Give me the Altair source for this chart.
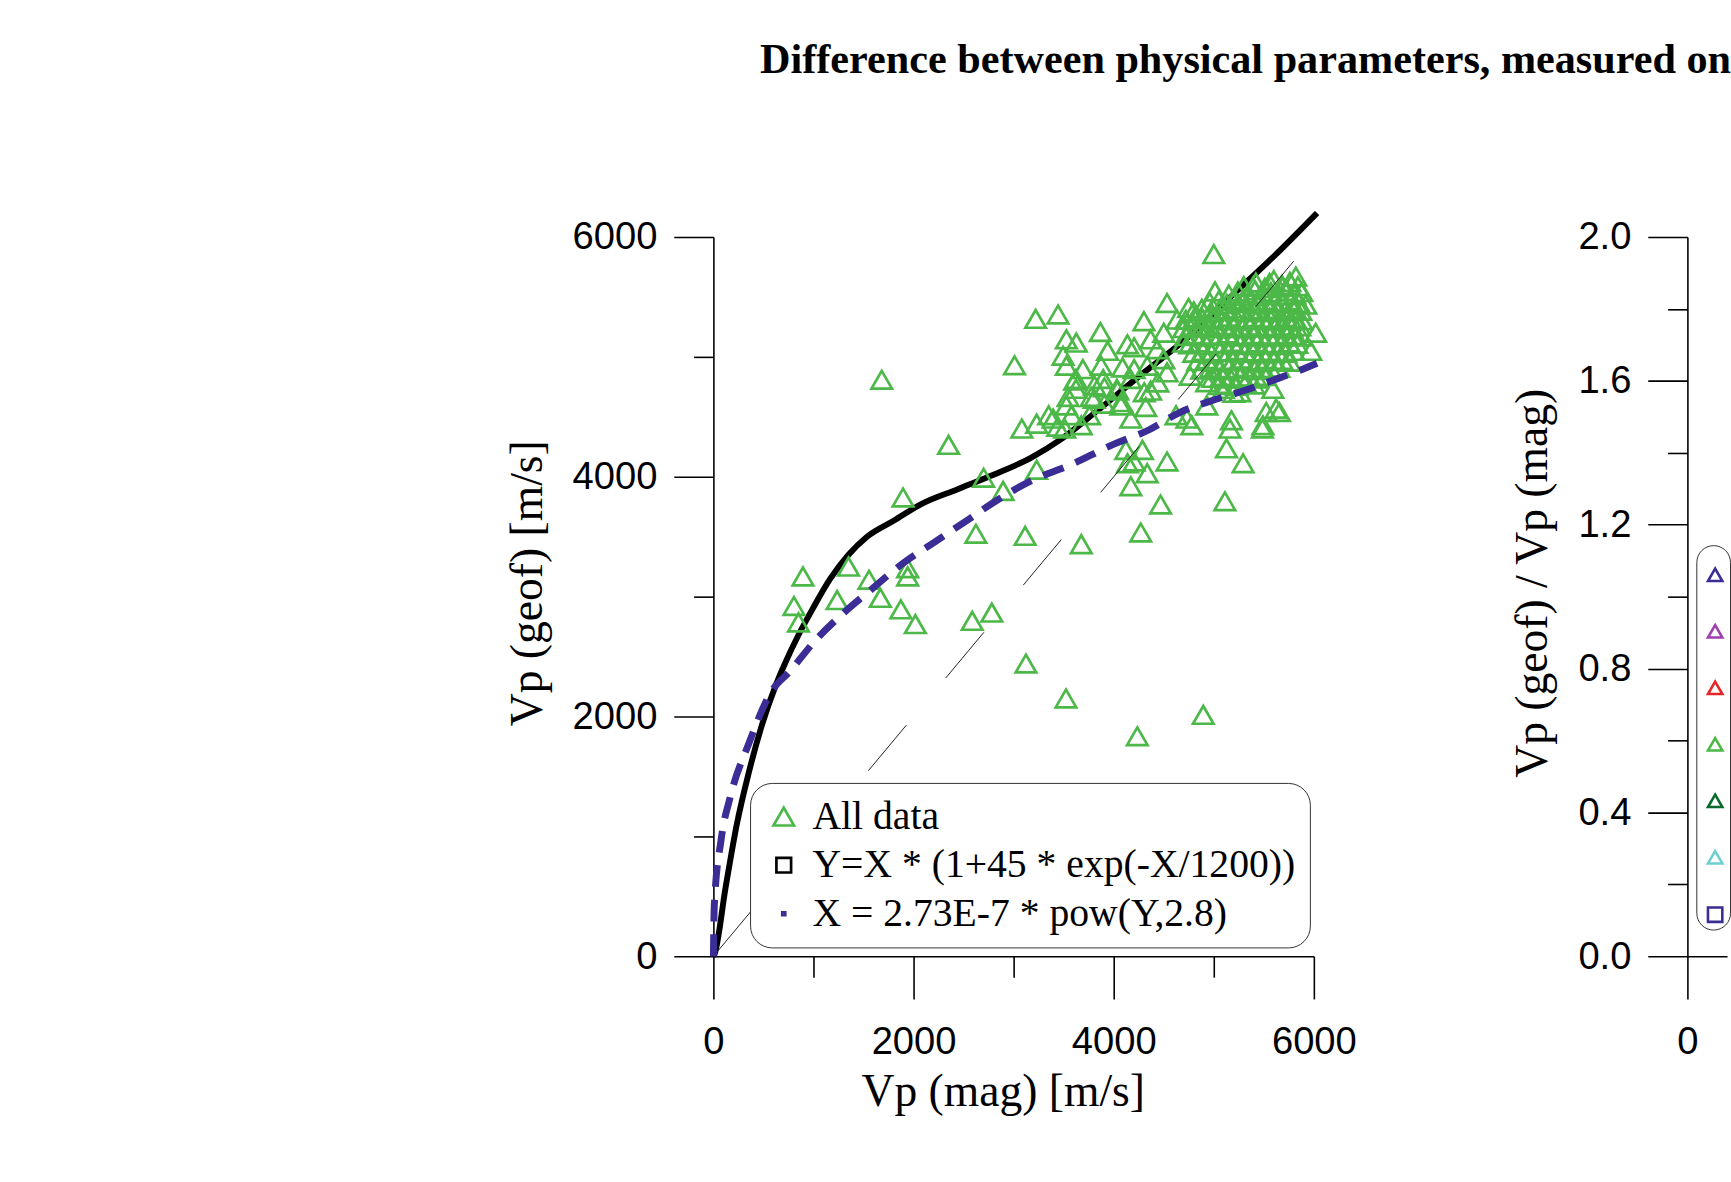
import altair as alt
import pandas as pd

TITLE = "Difference between physical parameters, measured on"

# ---- scatter "All data" (Vp mag, Vp geof) ----
outlier_x = [805, 850, 895, 1236, 1350, 1555, 1668, 1682, 1873, 1895, 1941, 1941, 2018, 2350,
             2586, 2623, 2700, 2782, 2895, 3009, 3115, 3123, 3230, 3220, 3444, 3523, 3676, 4236,
             4270, 4468, 4895, 5000, 5111, 5127, 5293, 4533, 4171, 4121, 4287, 4204, 4138, 4335]
outlier_y = [2922, 2785, 3169, 2971, 3251, 3141, 2990, 4809, 2894, 3827, 3169, 3237, 2771, 4266,
             2798, 3525, 3992, 2867, 3882, 4930, 3507, 2442, 4058, 5317, 5353, 2151, 3438, 1836,
             3535, 3769, 2014, 5857, 3796, 4237, 4113, 4127, 3921, 4224, 4224, 4127, 4113, 4030]

mid_x = [3082, 3230, 3395, 3527, 3510, 3676, 4171, 4320, 3907, 4072, 4369, 3350, 3441, 3577,
         3759, 3805, 3623, 4032, 3895, 3623, 4168, 4077, 4305, 4441,
         4780, 4731, 5177, 5161, 5491, 5524, 5656, 4930, 5200, 4623, 5486, 5623]
mid_y = [4402, 4443, 4485, 4595, 4402, 4430, 4485, 4582, 4609, 4595, 4719, 4513, 4417, 4513,
         4513, 4650, 4733, 4733, 4815, 4815, 4815, 4623, 4705, 4787,
         4430, 4485, 4471, 4402, 4430, 4540, 4540, 4595, 4700, 4513, 4403, 4568]

upper_x = [3867, 3527, 3626, 3494, 3939, 4137, 4204, 4302, 4533, 3527, 3692, 3874, 4088, 4204,
           4369, 4434, 3610, 3808, 3907, 4039, 3544, 3775, 4335, 4500, 4533,
           4748, 5012, 5820, 5557, 5919, 6018, 5969, 4632, 5293, 5392, 5689, 5771, 5820, 4897,
           4500, 4698, 5590, 5260, 5095, 4929, 4764]
upper_y = [5207, 5146, 5119, 5009, 5050, 5105, 5080, 5298, 5449, 4926, 4898, 4926, 4912, 4898,
           5146, 5064, 4802, 4761, 4747, 4720, 4665, 4665, 4926, 5201, 4871,
           5408, 5546, 5670, 5615, 5436, 5201, 5050, 5311, 5477, 5587, 5587, 5311, 5174, 5256,
           4981, 5119, 4733, 4705, 4733, 4788, 4843]

blob_x = [5300, 5420, 5510, 5600, 5680, 5760, 5840,
          5150, 5240, 5330, 5410, 5490, 5570, 5650, 5730, 5810, 5880,
          4960, 5050, 5130, 5210, 5290, 5370, 5450, 5530, 5610, 5690, 5770, 5850,
          4800, 4880, 4970, 5060, 5140, 5220, 5300, 5390, 5470, 5550, 5630, 5710, 5790, 5870,
          4720, 4810, 4890, 4980, 5070, 5150, 5230, 5320, 5400, 5480, 5560, 5640, 5720, 5800, 5880,
          4700, 4790, 4870, 4960, 5040, 5120, 5200, 5290, 5370, 5450, 5530, 5610, 5700, 5780, 5860,
          4720, 4800, 4890, 4970, 5060, 5140, 5220, 5310, 5390, 5470, 5550, 5630, 5720, 5800, 5880,
          4760, 4850, 4930, 5020, 5100, 5180, 5260, 5350, 5430, 5510, 5590, 5670, 5750, 5830,
          4800, 4890, 4980, 5060, 5150, 5230, 5310, 5400, 5480, 5560, 5640, 5720, 5800,
          4840, 4930, 5020, 5110, 5190, 5270, 5360, 5440, 5520, 5600, 5680, 5760,
          4880, 4970, 5060, 5150, 5240, 5320, 5410, 5490, 5570, 5650,
          4990, 5080, 5170, 5260, 5350, 5430, 5510,
          5050, 5140, 5230, 5320, 5400]
blob_y = [5590, 5620, 5575, 5640, 5600, 5625, 5590,
          5520, 5545, 5510, 5555, 5525, 5540, 5515, 5550, 5520, 5540,
          5455, 5470, 5440, 5475, 5450, 5465, 5440, 5470, 5455, 5445, 5470, 5450,
          5380, 5400, 5375, 5395, 5385, 5405, 5380, 5395, 5375, 5400, 5390, 5380, 5400, 5385,
          5310, 5330, 5315, 5325, 5305, 5335, 5320, 5310, 5330, 5315, 5325, 5310, 5330, 5320, 5305,
          5240, 5260, 5245, 5255, 5240, 5265, 5250, 5240, 5260, 5245, 5255, 5240, 5260, 5245, 5255,
          5175, 5190, 5170, 5185, 5175, 5195, 5180, 5170, 5190, 5175, 5185, 5170, 5190, 5180, 5170,
          5105, 5120, 5100, 5115, 5105, 5125, 5110, 5100, 5120, 5105, 5115, 5100, 5120, 5110,
          5035, 5050, 5030, 5045, 5040, 5055, 5035, 5045, 5030, 5050, 5040, 5035, 5050,
          4965, 4980, 4960, 4975, 4965, 4985, 4970, 4960, 4980, 4965, 4975, 4960,
          4895, 4910, 4890, 4905, 4900, 4915, 4890, 4905, 4895, 4910,
          4825, 4840, 4820, 4835, 4830, 4820, 4840,
          4765, 4775, 4760, 4780, 4770]

# ---- fitted curves ----
black_x = [0, 9, 123, 236, 350, 486, 623, 714, 850, 986, 1168, 1350, 1532, 1805, 2077, 2441,
           2805, 3168, 3486, 3805, 4259, 4714, 5168, 5623, 6032]
black_y = [0, 14, 580, 1110, 1521, 1932, 2260, 2440, 2680, 2890, 3150, 3350, 3498, 3635, 3772,
           3896, 4019, 4156, 4320, 4530, 4842, 5144, 5501, 5857, 6200]

blue_x = [0, 9, 77, 168, 350, 577, 759, 1032, 1305, 1577, 1895, 2214, 2532, 2850, 3168, 3577,
          3986, 4350, 4668, 4986, 5305, 5532, 5805, 6032]
blue_y = [0, 425, 973, 1329, 1767, 2205, 2373, 2647, 2867, 3059, 3279, 3457, 3635, 3813, 3964,
          4102, 4266, 4390, 4540, 4636, 4719, 4787, 4870, 4947]

diag_x = [0, 5800]
diag_y = [0, 5800]

legend_labels = ["All data", "Y=X * (1+45 * exp(-X/1200))", "X = 2.73E-7 * pow(Y,2.8)"]
legend_colors = ["#4cb848", "#000000", "#3a2d96"]
legend_shapes = ["triangle-up", "square", "square"]
legend_sizes = [430, 9, 9]

right_groups = ["g1", "g2", "g3", "g4", "g5", "g6", "g7"]
right_colors = ["#3a2d96", "#a040b0", "#e3262a", "#4cb848", "#0b6a2c", "#6fcfd1", "#3a2d96"]
right_shapes = ["triangle-up"] * 6 + ["square"]

# ---- tables ----
all_x = outlier_x + mid_x + upper_x + blob_x
all_y = outlier_y + mid_y + upper_y + blob_y
pts = pd.DataFrame({"vp_mag": all_x, "vp_geof": all_y, "series": ["All data"] * len(all_x)})
black = pd.DataFrame({"vp_mag": black_x, "vp_geof": black_y})
blue = pd.DataFrame({"vp_mag": blue_x, "vp_geof": blue_y})
diag = pd.DataFrame({"vp_mag": diag_x, "vp_geof": diag_y})
right_df = pd.DataFrame({"group": right_groups})

SANS = "Liberation Sans"
SERIF = "Liberation Serif"

x_axis = alt.Axis(values=list(range(0, 6001, 1000)), format="d",
                  labelExpr="datum.value % 2000 === 0 ? datum.label : ''",
                  tickSize={"condition": {"test": "datum.value % 2000 === 0", "value": 43}, "value": 21},
                  labelPadding=25, labelFlush=False, title="Vp (mag) [m/s]", titlePadding=9,
                  titleX=292, grid=False)

rx_axis = alt.Axis(values=[0], format="d", tickSize=43, labelPadding=25, labelFlush=False,
                   title=None, grid=False)

y_axis = alt.Axis(values=list(range(0, 6001, 1000)), format="d",
                  labelExpr="datum.value % 2000 === 0 ? datum.label : ''",
                  tickSize={"condition": {"test": "datum.value % 2000 === 0", "value": 40}, "value": 20},
                  labelPadding=17, labelFlush=False, title="Vp (geof) [m/s]", titlePadding=21,
                  titleY=349, grid=False)

xs = alt.Scale(domain=[0, 6000], nice=False, zero=False)
ys = alt.Scale(domain=[0, 6000], nice=False, zero=False)

main_legend = alt.Legend(title=None, orient="none", legendX=37, legendY=551,
                         fillColor="white", strokeColor="#333333", cornerRadius=22,
                         padding=14, symbolOffset=0, labelOffset=9, rowPadding=9,
                         labelFont=SERIF, labelColor="black", labelLimit=700, labelFontSize=40,
                         symbolStrokeWidth=2.7)

black_line = alt.Chart(black).mark_line(color="black", strokeWidth=6, interpolate="monotone").encode(
    x=alt.X("vp_mag:Q", scale=xs, axis=x_axis),
    y=alt.Y("vp_geof:Q", scale=ys, axis=y_axis))

points = alt.Chart(pts).mark_point(filled=False, opacity=1, strokeWidth=2.7).encode(
    x=alt.X("vp_mag:Q", scale=xs),
    y=alt.Y("vp_geof:Q", scale=ys),
    color=alt.Color("series:N", scale=alt.Scale(domain=legend_labels, range=legend_colors), legend=main_legend),
    shape=alt.Shape("series:N", scale=alt.Scale(domain=legend_labels, range=legend_shapes), legend=main_legend),
    size=alt.Size("series:N", scale=alt.Scale(domain=legend_labels, range=legend_sizes), legend=main_legend))

diag_line = alt.Chart(diag).mark_line(color="#222222", strokeWidth=1, strokeDash=[60, 62]).encode(
    x=alt.X("vp_mag:Q", scale=xs), y=alt.Y("vp_geof:Q", scale=ys))

blue_line = alt.Chart(blue).mark_line(color="#3a2d96", strokeWidth=7, strokeDash=[22, 13],
                                      interpolate="monotone").encode(
    x=alt.X("vp_mag:Q", scale=xs), y=alt.Y("vp_geof:Q", scale=ys))

main = alt.layer(black_line, points, diag_line, blue_line).properties(width=606, height=726)

right_legend = alt.Legend(title=" ", titleFontSize=10, titlePadding=8, orient="none",
                          legendX=9, legendY=311,
                          fillColor="white", strokeColor="#333333", cornerRadius=22,
                          padding=2, symbolOffset=7, labelOffset=0, rowPadding=33,
                          labelFont=SERIF, labelFontSize=20, labelExpr="''",
                          symbolStrokeWidth=2.6, symbolSize=210)

ry_axis = alt.Axis(values=[0.0, 0.2, 0.4, 0.6, 0.8, 1.0, 1.2, 1.4, 1.6, 1.8, 2.0], format=".1f",
                   labelExpr="round(datum.value * 10) % 4 === 0 ? datum.label : ''",
                   tickSize={"condition": {"test": "round(datum.value * 10) % 4 === 0", "value": 40}, "value": 20},
                   labelPadding=17, labelFlush=False, title="Vp (geof) / Vp (mag)", titlePadding=22,
                   titleY=349, grid=False)

right = alt.Chart(right_df).mark_point(filled=False, opacity=0, strokeWidth=2.4).encode(
    x=alt.X("vp:Q", scale=alt.Scale(domain=[0, 400], nice=False, zero=False), axis=rx_axis),
    y=alt.Y("ratio:Q", scale=alt.Scale(domain=[0, 2], nice=False, zero=False), axis=ry_axis),
    color=alt.Color("group:N", scale=alt.Scale(domain=right_groups, range=right_colors), legend=right_legend),
    shape=alt.Shape("group:N", scale=alt.Scale(domain=right_groups, range=right_shapes), legend=right_legend),
).transform_calculate(vp="null", ratio="null").properties(width=40, height=726)

chart = alt.hconcat(main, right, spacing=152).resolve_scale(
    color="independent", shape="independent", size="independent", x="independent", y="independent"
).resolve_legend(color="independent", shape="independent", size="independent").properties(
    title=alt.Title(TITLE, anchor="end", offset=120, font=SERIF, fontSize=42.6,
                    fontWeight="bold", color="black")
).configure(
    padding={"left": 508, "top": 34, "right": 0, "bottom": 0},
    background="white"
).configure_view(stroke="transparent").configure_axis(
    labelFont=SANS, labelFontSize=38.5, labelColor="black",
    titleFont=SERIF, titleFontSize=46, titleFontWeight="normal", titleColor="black",
    domainColor="black", domainWidth=1.6, tickColor="black", tickWidth=1.6
)

chart.save("out.html", embed_options={"renderer": "svg", "actions": False})
